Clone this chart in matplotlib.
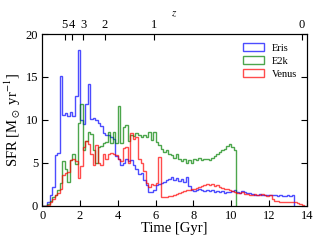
import numpy as np
import matplotlib
matplotlib.use("Agg")
import matplotlib.pyplot as plt

plt.rcParams["font.family"] = ["Liberation Serif", "DejaVu Serif"]
plt.rcParams["mathtext.fontset"] = "stix"

# bin edges (Gyr)
edges = np.linspace(0, 14, 106)

eris = [0, 0, 0.4, 1.2, 2.2, 5.9, 6.2, 15.1, 10.6, 10.8,
        10.4, 10.9, 10.5, 12.8, 18.1, 10.0, 9.5, 11.8, 14.2, 10.1,
        10.2, 10.0, 9.7, 9.3, 8.5, 8.3, 8.2, 8.0, 7.8, 5.8,
        5.5, 4.7, 5.0, 5.4, 5.2, 5.3, 4.8, 4.3, 3.7, 3.8,
        3.0, 2.4, 1.6, 1.6, 1.8, 2.4, 2.5, 2.6, 2.8, 3.0,
        3.1, 3.3, 3.0, 3.2, 2.9, 3.1, 2.8, 3.4, 2.3, 1.8,
        1.7, 1.8, 1.9, 1.8, 1.7, 1.8, 1.7, 1.8, 1.6, 1.7,
        1.6, 1.7, 1.5, 1.6, 1.6, 1.7, 1.8, 1.6, 1.5, 1.7,
        1.6, 1.5, 1.5, 1.4, 1.3, 1.3, 1.4, 1.3, 1.2, 1.3,
        1.2, 1.3, 1.2, 1.1, 1.2, 1.1, 1.1, 1.2, 1.1, 1.3]

e2k = [0, 0, 0.2, 0.6, 1.0, 1.3, 1.8, 2.6, 5.2, 4.3,
       2.8, 5.3, 6.0, 4.9, 9.6, 11.9, 6.5, 7.6, 8.6, 8.4,
       6.5, 5.0, 6.9, 7.0, 7.3, 7.4, 8.6, 7.3, 8.6, 7.3,
       11.6, 7.3, 9.2, 9.4, 7.6, 8.3, 8.1, 8.5, 8.2, 8.0,
       8.3, 8.0, 8.6, 7.7, 8.6, 7.4, 7.1, 6.6, 6.3, 6.5,
       6.0, 5.9, 5.6, 6.0, 5.4, 5.2, 5.5, 5.0, 5.3, 5.0,
       5.4, 5.3, 5.6, 5.3, 5.4, 5.5, 5.3, 5.6, 5.8, 6.0,
       6.3, 6.5, 6.6, 7.0, 7.2, 6.9, 6.5]

venus = [0, 0, 0.1, 0.5, 0.8, 1.2, 1.5, 2.0, 3.6, 3.8,
         3.9, 5.3, 5.4, 5.2, 3.2, 4.6, 6.9, 7.6, 7.2, 6.0,
         4.8, 7.1, 5.0, 4.7, 6.0, 5.5, 6.0, 6.1, 6.0, 5.9,
         5.5, 5.2, 6.7, 6.8, 5.0, 8.5, 7.8, 8.0, 5.5, 5.0,
         4.0, 2.7, 2.2, 2.5, 2.4, 2.7, 5.7, 1.0, 1.0, 1.0,
         1.1, 1.1, 1.3, 1.4, 1.5, 1.6, 1.7, 1.8, 1.8, 1.9,
         2.0, 2.1, 2.2, 2.3, 2.4, 2.5, 2.4, 2.5, 2.3, 2.4,
         2.2, 2.1, 2.0, 1.9, 1.8, 1.7, 1.6, 1.5, 1.5, 1.6,
         1.4, 1.4, 1.3, 1.2, 1.4, 1.3, 1.3, 1.4, 1.3, 1.1,
         1.2, 0.8, 0.6, 0.6, 0.5, 0.5, 0.5, 0.5, 0.5, 0.5,
         0.4, 0.3, 0.2, 0.1]

z_labels = ["5", "4", "3", "2", "1", "0"]
z_times = [1.18, 1.55, 2.17, 3.3, 5.9, 13.73]

fig = plt.figure(figsize=(3.25, 2.45), dpi=100)
ax = fig.add_axes([0.130, 0.160, 0.814, 0.701])

for vals, col, lab in [(eris, "b", "Eris"), (e2k, "g", "E2k"), (venus, "r", "Venus")]:
    n = len(vals)
    bins = edges[:n + 1]
    centers = 0.5 * (bins[:-1] + bins[1:])
    ax.hist(centers, bins=bins, weights=vals, histtype="step",
            color=col, alpha=0.7, lw=1.0, label=lab)

ax.set_xlim(0, 14)
ax.set_ylim(0, 20)
ax.set_xticks(np.arange(0, 15, 2))
ax.set_yticks([0, 5, 10, 15, 20])
ax.tick_params(direction="in", length=4, labelsize=9, top=False, right=True, pad=3)
ax.set_xlabel("Time [Gyr]", fontsize=10.5, labelpad=0)
ax.set_ylabel(r"SFR [M$_\odot$ yr$^{-1}$]", fontsize=10.5, labelpad=2)

ax2 = ax.twiny()
ax2.set_xlim(0, 14)
ax2.set_xticks(z_times)
ax2.set_xticklabels(z_labels)
ax2.tick_params(direction="in", length=4, labelsize=9, pad=2)
ax2.set_xlabel(r"$z$", fontsize=8, labelpad=2)

ax.legend(loc="upper right", frameon=False, fontsize=7.5, handlelength=2.0,
          handletextpad=0.8, labelspacing=0.35)

fig.savefig("out.png", dpi=100)
